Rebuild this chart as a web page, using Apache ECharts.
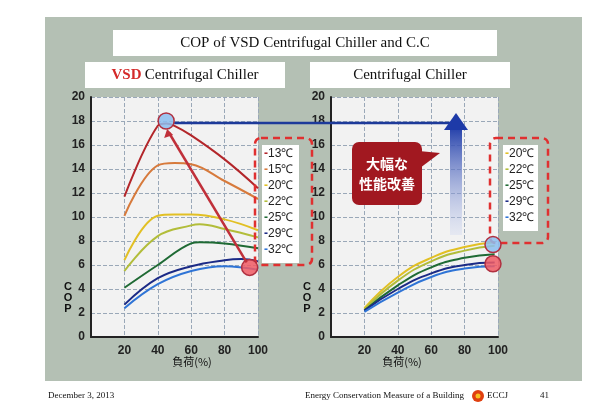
<!DOCTYPE html><html><head><meta charset="utf-8">
<script src="https://cdn.jsdelivr.net/npm/echarts@6/dist/echarts.min.js"></script>
<style>html,body{margin:0;padding:0;background:#fff}#c{width:600px;height:415px}</style></head><body><div id="c"></div>
<script>
const xTicks=[0,20,40,60,80,100];
const names=['13℃','15℃','20℃','22℃','25℃','29℃','32℃'];
const colors=['#b3262a','#d77a3c','#e2c024','#b2bd3a','#1f6a34','#1b2a86','#2f74d6'];
const vsd=[
 [[20,11.7],[40,17.6],[45,17.8],[50,17.6],[60,16.8],[80,14.8],[100,12.4]],
 [[20,10.1],[40,14.3],[50,14.5],[60,14.4],[80,13.0],[100,11.5]],
 [[20,6.4],[40,10.1],[50,10.2],[60,10.2],[80,9.8],[100,8.9]],
 [[20,5.5],[40,8.4],[60,9.3],[65,9.4],[80,9.0],[100,8.3]],
 [[20,4.1],[40,6.0],[60,7.8],[65,7.9],[80,7.8],[100,7.4]],
 [[20,2.7],[40,4.9],[60,5.9],[80,6.4],[90,6.5],[100,6.3]],
 [[20,2.4],[40,4.4],[60,5.5],[80,5.9],[100,5.6]]];
const ccNames=['20℃','22℃','25℃','29℃','32℃'];
const ccColors=['#e2c024','#b2bd3a','#1f6a34','#1b2a86','#2f74d6'];
const cc=[
 [[20,2.4],[40,5.0],[60,6.6],[80,7.5],[98,7.9]],
 [[20,2.3],[40,4.7],[60,6.3],[80,7.2],[98,7.6]],
 [[20,2.2],[40,4.3],[60,5.8],[80,6.6],[98,6.9]],
 [[20,2.2],[40,4.0],[60,5.3],[80,6.0],[98,6.2]],
 [[20,2.1],[40,3.7],[60,5.0],[80,5.7],[98,5.9]]];
const blueMarks=[[45,18],[97,7.7]];
const redMarks=[[95,5.8],[97,6.1]];

const ch=echarts.init(document.getElementById('c'));
const ax=(i)=>({gridIndex:i,type:'value',min:0,max:100,interval:20,
  axisLine:{show:true,onZero:false,lineStyle:{color:'#222',width:2}},axisTick:{show:false},
  axisLabel:{fontFamily:'Liberation Sans',fontWeight:'bold',fontSize:12,color:'#222',margin:8,formatter:v=>v===0?'':v},
  splitLine:{show:true,lineStyle:{color:'#9aa8b8',type:'dashed'}}});
const ay=(i)=>({gridIndex:i,type:'value',min:0,max:20,interval:2,
  axisLine:{show:true,lineStyle:{color:'#222',width:2}},axisTick:{show:false},
  axisLabel:{fontFamily:'Liberation Sans',fontWeight:'bold',fontSize:12,color:'#222',margin:6},
  splitLine:{show:true,lineStyle:{color:'#9aa8b8',type:'dashed'}}});
const series=[];
vsd.forEach((d,i)=>series.push({type:'line',xAxisIndex:0,yAxisIndex:0,data:d,smooth:0.4,showSymbol:false,lineStyle:{color:colors[i],width:2}}));
cc.forEach((d,i)=>series.push({type:'line',xAxisIndex:1,yAxisIndex:1,data:d,smooth:0.5,showSymbol:false,lineStyle:{color:ccColors[i],width:2}}));
ch.setOption({animation:false,backgroundColor:'#fff',
 grid:[{left:91,top:97,width:167,height:240,show:true,backgroundColor:'#f2f2f2',borderWidth:0},
       {left:331,top:97,width:167,height:240,show:true,backgroundColor:'#f2f2f2',borderWidth:0}],
 xAxis:[ax(0),ax(1)],yAxis:[ay(0),ay(1)],series});
const P=(g,p)=>ch.convertToPixel({gridIndex:g},p);
const b0=P(0,blueMarks[0]),b1=P(1,blueMarks[1]),r0=P(0,redMarks[0]),r1=P(1,redMarks[1]);
const hline=P(1,[76,18]);
const T=(x,y,t,o,z)=>({type:'text',x,y,z:z||1,style:Object.assign({text:t,fontFamily:'Liberation Serif',fontSize:14,fill:'#111'},o||{})});
const legendTexts=(x,y,ns,cs)=>ns.map((n,i)=>({type:'text',z:6,x,y:y+i*16,style:{rich:{d:{fill:cs[i],fontSize:12,fontWeight:'bold'},t:{fill:'#222',fontSize:12,fontFamily:'Liberation Sans Narrow, Liberation Sans'}},text:'{d|-}{t|'+n+'}'}}));
const graphic=[
 {type:'rect',z:-10,shape:{x:45,y:17,width:537,height:364},style:{fill:'#b4c0b4'}},
 {type:'rect',shape:{x:113,y:30,width:384,height:26},style:{fill:'#fff'}},
 T(305,43,'COP of VSD Centrifugal Chiller and C.C',{fontSize:15,align:'center',verticalAlign:'middle'},2),
 {type:'rect',shape:{x:85,y:62,width:200,height:26},style:{fill:'#fff'}},
 {type:'text',z:2,x:185,y:75,style:{rich:{a:{fill:'#d42a2a',fontWeight:'bold',fontSize:15,fontFamily:'Liberation Serif'},b:{fill:'#111',fontSize:15,fontFamily:'Liberation Serif'}},text:'{a|VSD} {b|Centrifugal Chiller}',align:'center',verticalAlign:'middle'}},
 {type:'rect',shape:{x:310,y:62,width:200,height:26},style:{fill:'#fff'}},
 T(410,75,'Centrifugal Chiller',{fontSize:15,align:'center',verticalAlign:'middle'},2),
 T(68,298,'C\nO\nP',{fontFamily:'Liberation Sans',fontWeight:'bold',fontSize:11,align:'center',verticalAlign:'middle',lineHeight:11}),
 T(307,298,'C\nO\nP',{fontFamily:'Liberation Sans',fontWeight:'bold',fontSize:11,align:'center',verticalAlign:'middle',lineHeight:11}),
 T(192,362,'負荷(%)',{fontFamily:'Noto Sans CJK JP',fontSize:11,align:'center',verticalAlign:'middle'}),
 T(402,362,'負荷(%)',{fontFamily:'Noto Sans CJK JP',fontSize:11,align:'center',verticalAlign:'middle'}),
 {type:'line',z:5,shape:{x1:b0[0]+8,y1:b0[1]+2,x2:hline[0],y2:hline[1]+2},style:{stroke:'#1d3a9a',lineWidth:2.5}},
 {type:'rect',z:5,shape:{x:450,y:125,width:12,height:110},style:{fill:new echarts.graphic.LinearGradient(0,0,0,1,[{offset:0,color:'#1d3aa8'},{offset:1,color:'rgba(200,210,240,0.3)'}])}},
 {type:'polygon',z:5,shape:{points:[[444,130],[456,113],[468,130]]},style:{fill:'#1d3aa8'}},
 {type:'polygon',z:6,shape:{points:[[408,150],[440,153],[420,168]]},style:{fill:'#a11820'}},
 {type:'rect',z:6,shape:{x:352,y:142,width:70,height:63,r:7},style:{fill:'#a11820'}},
 T(387,174,'大幅な\n性能改善',{fontFamily:'Noto Sans CJK JP',fontWeight:'bold',fontSize:14,fill:'#fff',align:'center',verticalAlign:'middle',lineHeight:20},7),
 {type:'rect',z:4,shape:{x:255,y:138,width:57,height:127,r:6},style:{fill:'none',stroke:'#e03030',lineWidth:2.5,lineDash:[7,5]}},
 {type:'rect',z:5,shape:{x:262,y:145,width:37,height:118},style:{fill:'#fff'}},
 {type:'rect',z:4,shape:{x:490,y:138,width:58,height:105,r:6},style:{fill:'none',stroke:'#e03030',lineWidth:2.5,lineDash:[7,5]}},
 {type:'rect',z:5,shape:{x:503,y:145,width:35,height:86},style:{fill:'#fff'}},
 ...legendTexts(264,148,names,colors),
 ...legendTexts(505,148,ccNames,ccColors),
 {type:'circle',z:8,shape:{cx:b0[0],cy:b0[1],r:8},style:{fill:'rgba(140,190,240,0.85)',stroke:'#b03040',lineWidth:1.5}},
 {type:'circle',z:8,shape:{cx:b1[0],cy:b1[1],r:8},style:{fill:'rgba(140,190,240,0.85)',stroke:'#b03040',lineWidth:1.5}},
 {type:'circle',z:8,shape:{cx:r0[0],cy:r0[1],r:8},style:{fill:'rgba(240,90,100,0.85)',stroke:'#b03040',lineWidth:1.5}},
 {type:'circle',z:8,shape:{cx:r1[0],cy:r1[1],r:8},style:{fill:'rgba(240,90,100,0.85)',stroke:'#b03040',lineWidth:1.5}},
 {type:'line',z:9,shape:{x1:r0[0]-3,y1:r0[1]-5,x2:b0[0]+3,y2:b0[1]+12},style:{stroke:'#c0303a',lineWidth:2.5}},
 {type:'polygon',z:9,shape:{points:[[b0[0]+1,b0[1]+8],[b0[0]-2,b0[1]+17],[b0[0]+7,b0[1]+14]]},style:{fill:'#c0303a'}},
 T(48,396,'December 3, 2013',{fontSize:9,verticalAlign:'middle'}),
 T(305,396,'Energy Conservation Measure of a Building',{fontSize:9,verticalAlign:'middle'}),
 {type:'circle',shape:{cx:478,cy:396,r:6},style:{fill:'#e04010'}},
 {type:'circle',z:2,shape:{cx:478,cy:396,r:2.5},style:{fill:'#f8c020'}},
 T(487,396,'ECCJ',{fontSize:9,verticalAlign:'middle'}),
 T(540,396,'41',{fontSize:9,verticalAlign:'middle'})
];
ch.setOption({graphic});
</script></body></html>
